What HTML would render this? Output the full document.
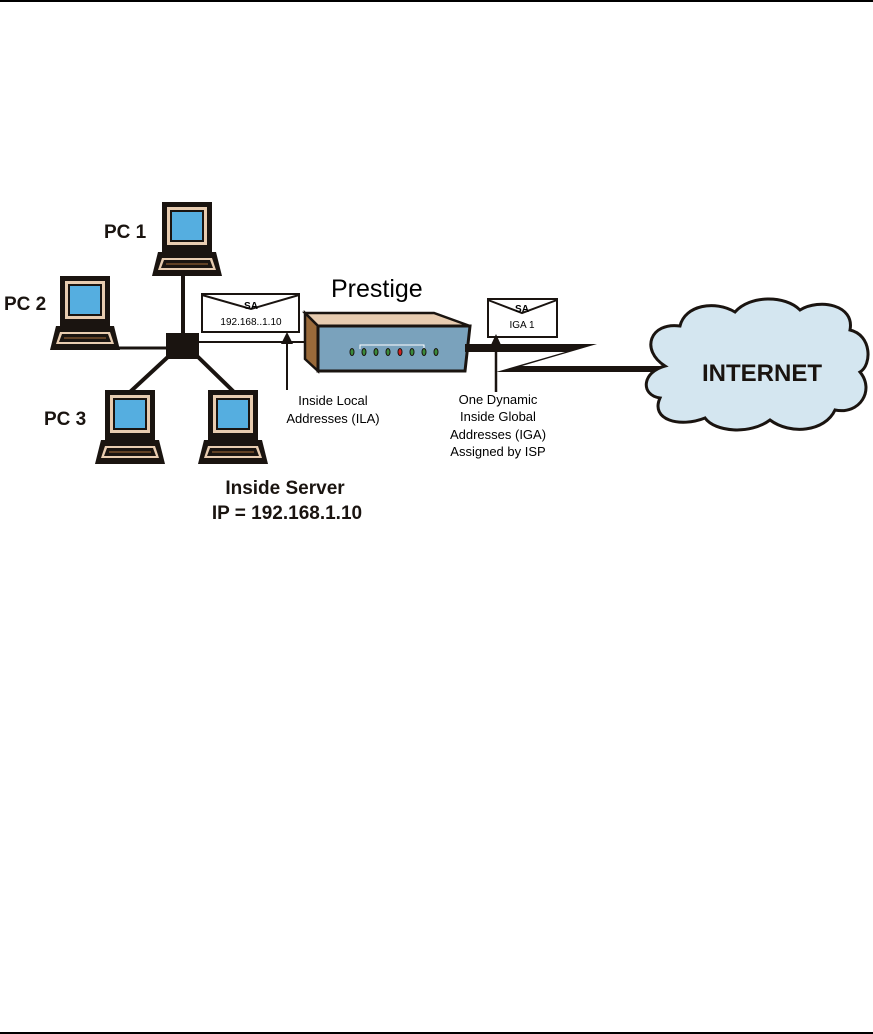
<!DOCTYPE html>
<html><head><meta charset="utf-8"><style>
html,body{margin:0;padding:0;background:#fff}
svg{display:block}
text{font-family:"Liberation Sans",Arial,sans-serif}
</style></head><body>
<svg width="873" height="1034" viewBox="0 0 873 1034" xmlns="http://www.w3.org/2000/svg">
<defs>
<g id="pc">
  <rect x="0" y="0" width="50" height="50" fill="#1a1410"/>
  <rect x="5" y="5" width="40" height="38" fill="#e8ccb0"/>
  <rect x="8" y="8" width="34" height="32" fill="#1a1410"/>
  <rect x="10" y="10" width="30" height="28" fill="#55aee0"/>
  <path d="M-4 50 L54 50 L60 74 L-10 74 Z" fill="#1a1410"/>
  <path d="M0 56 L50 56 L54 68 L-4 68 Z" fill="#e8ccb0"/>
  <path d="M2 58 L48 58 L51 66 L-1 66 Z" fill="#1a1410"/>
  <line x1="4" y1="62" x2="46" y2="62" stroke="#8a5a30" stroke-width="1.2"/>
</g>
</defs>
<line x1="0" y1="1" x2="873" y2="1" stroke="#000" stroke-width="2"/>
<line x1="0" y1="1033" x2="873" y2="1033" stroke="#000" stroke-width="2"/>

<line x1="183" y1="276" x2="183" y2="340" stroke="#1a1410" stroke-width="4"/>
<line x1="110" y1="348" x2="170" y2="348" stroke="#1a1410" stroke-width="3"/>
<line x1="170" y1="355" x2="130" y2="392" stroke="#1a1410" stroke-width="4"/>
<line x1="196" y1="355" x2="234" y2="392" stroke="#1a1410" stroke-width="4"/>
<line x1="199" y1="342" x2="310" y2="342" stroke="#1a1410" stroke-width="2"/>
<rect x="166" y="333" width="33" height="26" fill="#1a1410"/>

<use href="#pc" x="162" y="202"/>
<use href="#pc" x="60" y="276"/>
<use href="#pc" x="105" y="390"/>
<use href="#pc" x="208" y="390"/>

<text x="104" y="238" font-size="19" font-weight="bold" fill="#1a1410">PC 1</text>
<text x="4" y="310" font-size="19" font-weight="bold" fill="#1a1410">PC 2</text>
<text x="44" y="425" font-size="19" font-weight="bold" fill="#1a1410">PC 3</text>
<text x="285" y="494" font-size="19" font-weight="bold" fill="#1a1410" text-anchor="middle">Inside Server</text>
<text x="287" y="519" font-size="19" font-weight="bold" fill="#1a1410" text-anchor="middle">IP = 192.168.1.10</text>

<rect x="202" y="294" width="97" height="38" fill="#fff" stroke="#1a1410" stroke-width="2"/>
<polyline points="202,295 251,309 299,295" fill="none" stroke="#1a1410" stroke-width="2"/>
<text x="251" y="309" font-size="10" font-weight="bold" text-anchor="middle">SA</text>
<text x="251" y="325" font-size="10" text-anchor="middle">192.168..1.10</text>
<line x1="287" y1="340" x2="287" y2="390" stroke="#1a1410" stroke-width="2"/>
<polygon points="287,332 281,344 293,344" fill="#1a1410"/>
<text x="333" y="405" font-size="13" text-anchor="middle">Inside Local</text>
<text x="333" y="423" font-size="13" text-anchor="middle">Addresses (ILA)</text>

<text x="331" y="297" font-size="25">Prestige</text>
<polygon points="305,313 434,313 470,326 318,326" fill="#e8ccb0" stroke="#1a1410" stroke-width="2.5"/>
<polygon points="305,313 318,326 318,371 305,359" fill="#9a6a3a" stroke="#1a1410" stroke-width="2.5"/>
<polygon points="318,326 470,326 465,371 318,371" fill="#7aa2bc" stroke="#1a1410" stroke-width="3"/>
<polyline points="360,349 360,345 424,345 424,349" fill="none" stroke="#fff" stroke-width="1"/>
<g fill="#3a8a3a" stroke="#1a1410" stroke-width="1">
<ellipse cx="352" cy="352" rx="2" ry="3.5"/><ellipse cx="364" cy="352" rx="2" ry="3.5"/>
<ellipse cx="376" cy="352" rx="2" ry="3.5"/><ellipse cx="388" cy="352" rx="2" ry="3.5"/>
<ellipse cx="400" cy="352" rx="2" ry="3.5" fill="#d02020"/><ellipse cx="412" cy="352" rx="2" ry="3.5"/>
<ellipse cx="424" cy="352" rx="2" ry="3.5"/><ellipse cx="436" cy="352" rx="2" ry="3.5"/>
</g>

<polygon points="465,344 597,344 522,366 665,366 665,372 496,372 565,352 465,352" fill="#1a1410"/>

<rect x="488" y="299" width="69" height="38" fill="#fff" stroke="#1a1410" stroke-width="2"/>
<polyline points="488,300 522,313 557,300" fill="none" stroke="#1a1410" stroke-width="2"/>
<text x="522" y="312" font-size="10" font-weight="bold" text-anchor="middle">SA</text>
<text x="522" y="328" font-size="10" text-anchor="middle">IGA 1</text>
<line x1="496" y1="345" x2="496" y2="392" stroke="#1a1410" stroke-width="2.5"/>
<polygon points="496,334 490,347 502,347" fill="#1a1410"/>
<text x="498" y="404" font-size="13" text-anchor="middle">One Dynamic</text>
<text x="498" y="421" font-size="13" text-anchor="middle">Inside Global</text>
<text x="498" y="439" font-size="13" text-anchor="middle">Addresses (IGA)</text>
<text x="498" y="456" font-size="13" text-anchor="middle">Assigned by ISP</text>

<path d="M665,366 C640,350 650,322 680,326 C685,305 715,300 735,312 C750,295 785,295 800,310 C820,298 855,305 850,330 C872,335 872,365 860,372 C875,390 860,415 835,410 C825,432 790,435 770,420 C750,435 715,432 705,418 C680,428 650,420 660,398 C640,395 642,372 665,366 Z" fill="#d4e6f0" stroke="#1a1410" stroke-width="3"/>
<text x="762" y="381" font-size="24" font-weight="bold" text-anchor="middle" fill="#1a1410">INTERNET</text>
</svg>
</body></html>
